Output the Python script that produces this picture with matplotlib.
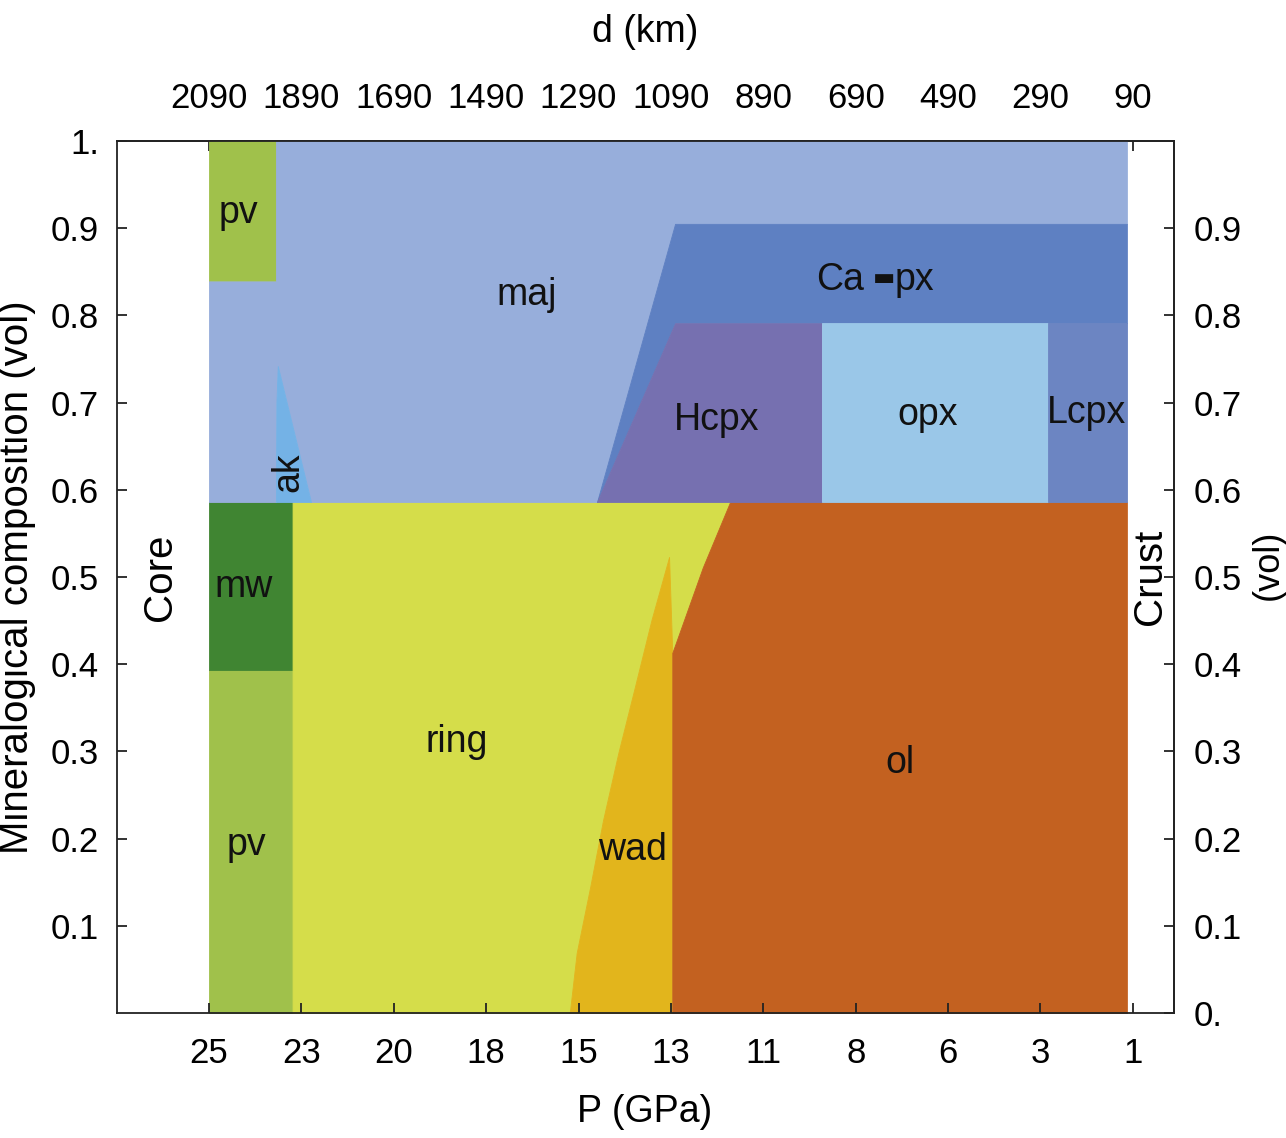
import matplotlib
matplotlib.use('Agg')
import matplotlib.pyplot as plt

# fonts: narrow helvetica-like for ticks and phase names, regular for side labels
narrow = ['Liberation Sans Narrow', 'Liberation Sans', 'DejaVu Sans']
regular = ['Liberation Sans', 'DejaVu Sans']

# ---- axis ticks (depth axis, pressure labels at same spots)
depth_ticks = [2090, 1890, 1690, 1490, 1290, 1090, 890, 690, 490, 290, 90]
p_labels = ['25', '23', '20', '18', '15', '13', '11', '8', '6', '3', '1']
d_labels = [str(d) for d in depth_ticks]
frac_left = [0.1, 0.2, 0.3, 0.4, 0.5, 0.6, 0.7, 0.8, 0.9, 1.0]
frac_left_lab = ['0.1', '0.2', '0.3', '0.4', '0.5', '0.6', '0.7', '0.8', '0.9', '1.']
frac_right = [0.0, 0.1, 0.2, 0.3, 0.4, 0.5, 0.6, 0.7, 0.8, 0.9]
frac_right_lab = ['0.', '0.1', '0.2', '0.3', '0.4', '0.5', '0.6', '0.7', '0.8', '0.9']

# ---- phase fields, depth (km) with lower / upper cumulative fraction
pv_lo_d = [2090, 1909]
pv_lo_bot = [0.0, 0.0]
pv_lo_top = [0.393, 0.393]

mw_d = [2090, 1909]
mw_bot = [0.393, 0.393]
mw_top = [0.586, 0.586]

wad_d = [1309, 1294, 1265, 1237, 1204, 1168, 1132, 1094, 1087, 1087]
wad_bot = [0, 0, 0, 0, 0, 0, 0, 0, 0, 0]
wad_top = [0.0, 0.069, 0.144, 0.221, 0.298, 0.374, 0.451, 0.523, 0.413, 0.0]

ring_d = [1909, 1309, 1294, 1265, 1237, 1204, 1168, 1132, 1094, 1087, 1021, 962]
ring_bot = [0.0, 0.0, 0.069, 0.144, 0.221, 0.298, 0.374, 0.451, 0.523, 0.413, 0.511, 0.586]
ring_top = [0.586] * 12

ol_d = [1087, 1021, 962, 103]
ol_bot = [0, 0, 0, 0]
ol_top = [0.413, 0.511, 0.586, 0.586]

pv_up_d = [2090, 1944]
pv_up_bot = [0.839, 0.839]
pv_up_top = [1.0, 1.0]

ak_d = [1945, 1944, 1941, 1869]
ak_bot = [0.586, 0.586, 0.586, 0.586]
ak_top = [0.586, 0.70, 0.742, 0.586]

maj_d = [2090, 1945, 1945, 1944, 1941, 1869, 1250, 1081, 103]
maj_bot = [0.586, 0.586, 0.586, 0.70, 0.742, 0.586, 0.586, 0.905, 0.905]
maj_top = [0.839, 0.839, 1.0, 1.0, 1.0, 1.0, 1.0, 1.0, 1.0]

capx_d = [1250, 1081, 103]
capx_bot = [0.586, 0.791, 0.791]
capx_top = [0.586, 0.905, 0.905]

hcpx_d = [1250, 1081, 764]
hcpx_bot = [0.586, 0.586, 0.586]
hcpx_top = [0.586, 0.791, 0.791]

opx_d = [764, 274]
opx_bot = [0.586, 0.586]
opx_top = [0.791, 0.791]

lcpx_d = [274, 103]
lcpx_bot = [0.586, 0.586]
lcpx_top = [0.791, 0.791]

fields = [
    (pv_lo_d, pv_lo_bot, pv_lo_top, '#a0c14b'),
    (mw_d, mw_bot, mw_top, '#408532'),
    (ring_d, ring_bot, ring_top, '#d5dd4a'),
    (wad_d, wad_bot, wad_top, '#e2b51c'),
    (ol_d, ol_bot, ol_top, '#c36120'),
    (pv_up_d, pv_up_bot, pv_up_top, '#a0c14b'),
    (maj_d, maj_bot, maj_top, '#97aedb'),
    (ak_d, ak_bot, ak_top, '#74b2e6'),
    (capx_d, capx_bot, capx_top, '#5e80c2'),
    (hcpx_d, hcpx_bot, hcpx_top, '#7670b0'),
    (opx_d, opx_bot, opx_top, '#9ac7e8'),
    (lcpx_d, lcpx_bot, lcpx_top, '#6c85c2'),
]

# phase names and where they sit (depth, fraction, rotation)
names = [
    ('pv', 2027, 0.917, 0), ('maj', 1402, 0.823, 0), ('ak', 1917, 0.620, 90),
    ('Ca', 724, 0.841, 0), ('px', 563, 0.841, 0),
    ('Hcpx', 990, 0.680, 0), ('opx', 534, 0.686, 0),
    ('Lcpx', 190, 0.688, 0), ('mw', 2014, 0.489, 0), ('pv', 2008, 0.193, 0),
    ('ring', 1553, 0.311, 0), ('wad', 1174, 0.187, 0), ('ol', 594, 0.287, 0),
]

fig = plt.figure(figsize=(12.86, 11.38), dpi=100)
ax = fig.add_axes([117/1286, 1 - 1013/1138, (1174-117)/1286, (1013-141)/1138])

for d, lo, hi, c in fields:
    ax.fill_between(d, lo, hi, facecolor=c, edgecolor=c, linewidth=0.6)

for txt, d, f, rot in names:
    ax.text(d, f, txt, ha='center', va='center', rotation=rot,
            fontsize=27, family=narrow, color='#111111')
# the thick dash of "Ca-px"
ax.text(629, 0.843, '\u25AC', ha='center', va='center', fontsize=17,
        family=['DejaVu Sans'], color='#111111')

ax.text(2196, 0.5, 'Core', rotation=90, ha='center', va='center', fontsize=29, family=regular)
ax.text(53, 0.5, 'Crust', rotation=90, ha='center', va='center', fontsize=29, family=regular)

ax.set_xlim(2289, 1)
ax.set_ylim(0, 1)

ax.set_xticks(depth_ticks, p_labels)
ax.set_yticks(frac_left, frac_left_lab)
ax.tick_params(direction='in', length=7, width=1.3, labelsize=25, color='#222222')
ax.tick_params(axis='x', pad=17)
ax.tick_params(axis='y', pad=13)
for lab in ax.get_xticklabels() + ax.get_yticklabels():
    lab.set_family(narrow)

top = ax.secondary_xaxis('top')
top.set_xticks(depth_ticks, d_labels)
top.tick_params(direction='in', length=7, width=1.3, labelsize=25, pad=19, color='#222222')
right = ax.secondary_yaxis('right')
right.set_yticks(frac_right, frac_right_lab)
right.tick_params(direction='in', length=7, width=1.3, labelsize=25, pad=14, color='#222222')
for lab in top.get_xticklabels() + right.get_yticklabels():
    lab.set_family(narrow)

for a in (ax, top, right):
    for s in a.spines.values():
        s.set_linewidth(1.3)
        s.set_color('#222222')

fig.text(645/1286, 1 - 32/1138, 'd (km)', ha='center', va='center', fontsize=27, family=narrow)
fig.text(645/1286, 1 - 1112/1138, 'P (GPa)', ha='center', va='center', fontsize=27, family=narrow)
fig.text(17/1286, 1 - 577/1138, 'Mineralogical composition (vol)', rotation=90,
         ha='center', va='center', fontsize=29, family=regular)
fig.text(1268/1286, 1 - 565/1138, '(vol)', rotation=90, ha='center', va='center',
         fontsize=26, family=regular)

fig.savefig('out.png', dpi=100)
